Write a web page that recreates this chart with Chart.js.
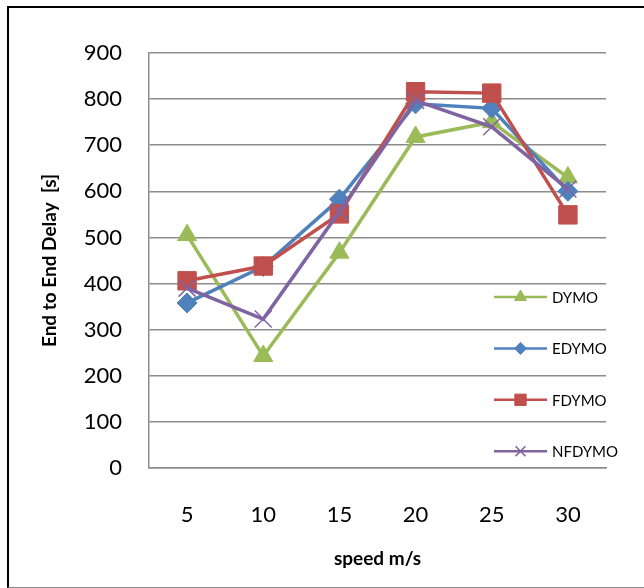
<!DOCTYPE html>
<html>
<head>
<meta charset="utf-8">
<script src="https://cdn.jsdelivr.net/npm/chart.js@4/dist/chart.umd.min.js"></script>
<style>
  html, body { margin: 0; padding: 0; background: #fff; }
  body { width: 644px; height: 588px; position: relative; overflow: hidden; }
  #frame { position: absolute; left: 7px; top: 6px; width: 700px; height: 579px;
           border-left: 2px solid #000; border-top: 2px solid #000; border-bottom: 1px solid #8a8a8a; }
  #c { position: absolute; left: 0; top: 0; }
</style>
</head>
<body>
<div id="frame"></div>
<canvas id="c" width="644" height="588"></canvas>
<script>
const categories = ['5', '10', '15', '20', '25', '30'];
const seriesNames = ['DYMO', 'EDYMO', 'FDYMO', 'NFDYMO'];
const dymo   = [505, 243, 467, 718, 750, 630];
const edymo  = [358, 437, 583, 790, 780, 600];
const fdymo  = [406, 438, 551, 816, 813, 549];
const nfdymo = [390, 323, 556, 797, 740, 605];
const yTicks = [0, 100, 200, 300, 400, 500, 600, 700, 800, 900];

const colors = ['#9BBB59', '#4F81BD', '#C0504D', '#8064A2'];
const styles = ['triangle', 'rectRot', 'rect', 'crossRot'];
const radii  = [11, 10, 13, 12];
const legendRadii = [7, 6, 8, 7];
const values = [dymo, edymo, fdymo, nfdymo];

const FONT = 'Lato, "Open Sans", sans-serif';

const datasets = seriesNames.map((name, i) => ({
  label: name,
  data: values[i],
  borderColor: colors[i],
  backgroundColor: colors[i],
  borderWidth: 3.5,
  pointStyle: styles[i],
  pointRadius: radii[i],
  pointHoverRadius: radii[i],
  pointBorderWidth: styles[i] === 'crossRot' ? 1.5 : 1,
  pointBorderColor: colors[i],
  pointBackgroundColor: colors[i],
  tension: 0,
  order: 3 - i
}));

const sideLegend = {
  id: 'sideLegend',
  afterDraw(chart) {
    const ctx = chart.ctx;
    const area = chart.chartArea;
    const x0 = area.right - 112;
    const x1 = x0 + 53;
    const startY = area.top + 244;
    const step = 51.4;
    chart.data.datasets.forEach((ds, i) => {
      const y = startY + i * step;
      ctx.save();
      ctx.strokeStyle = ds.borderColor;
      ctx.lineWidth = 2.5;
      ctx.beginPath();
      ctx.moveTo(x0, y);
      ctx.lineTo(x1, y);
      ctx.stroke();
      ctx.fillStyle = ds.backgroundColor;
      ctx.strokeStyle = ds.borderColor;
      ctx.lineWidth = ds.pointStyle === 'crossRot' ? 1.5 : 1;
      Chart.helpers.drawPoint(ctx, { pointStyle: ds.pointStyle, radius: legendRadii[i], rotation: 0, borderWidth: ctx.lineWidth }, (x0 + x1) / 2, y);
      ctx.fillStyle = '#000';
      ctx.font = '15px ' + FONT;
      ctx.textBaseline = 'middle';
      ctx.textAlign = 'left';
      ctx.fillText(ds.label, x1 + 5, y + 1);
      ctx.restore();
    });
  }
};

new Chart(document.getElementById('c'), {
  type: 'line',
  data: { labels: categories, datasets },
  options: {
    responsive: false,
    animation: false,
    events: [],
    layout: { padding: { left: 0, top: 53, right: 38, bottom: 0 } },
    plugins: { legend: { display: false }, tooltip: { enabled: false } },
    scales: {
      x: {
        offset: true,
        grid: { display: false, drawTicks: false },
        border: { display: true, color: '#8c8c8c', width: 1.5 },
        ticks: { color: '#000', font: { family: FONT, size: 22 }, padding: 34, maxRotation: 0 },
        title: { display: true, text: 'speed m/s', color: '#000',
                 font: { family: FONT, size: 19, weight: 'bold' }, padding: { top: 0, bottom: 18 } },
        afterFit(s) { s.height = 120; }
      },
      y: {
        min: 0, max: 900,
        afterBuildTicks(s) { s.ticks = yTicks.map(v => ({ value: v })); },
        grid: { color: '#8c8c8c', lineWidth: 1.5, drawTicks: false },
        border: { display: true, color: '#8c8c8c', width: 1.5 },
        ticks: { color: '#000', font: { family: FONT, size: 22 }, padding: 27 },
        title: { display: true, text: 'End to End Delay  [s]', color: '#000',
                 font: { family: FONT, size: 19, weight: 'bold' }, padding: { top: 38, bottom: 0 } },
        afterFit(s) { s.width = 149; }
      }
    }
  },
  plugins: [sideLegend]
});
</script>
</body>
</html>
